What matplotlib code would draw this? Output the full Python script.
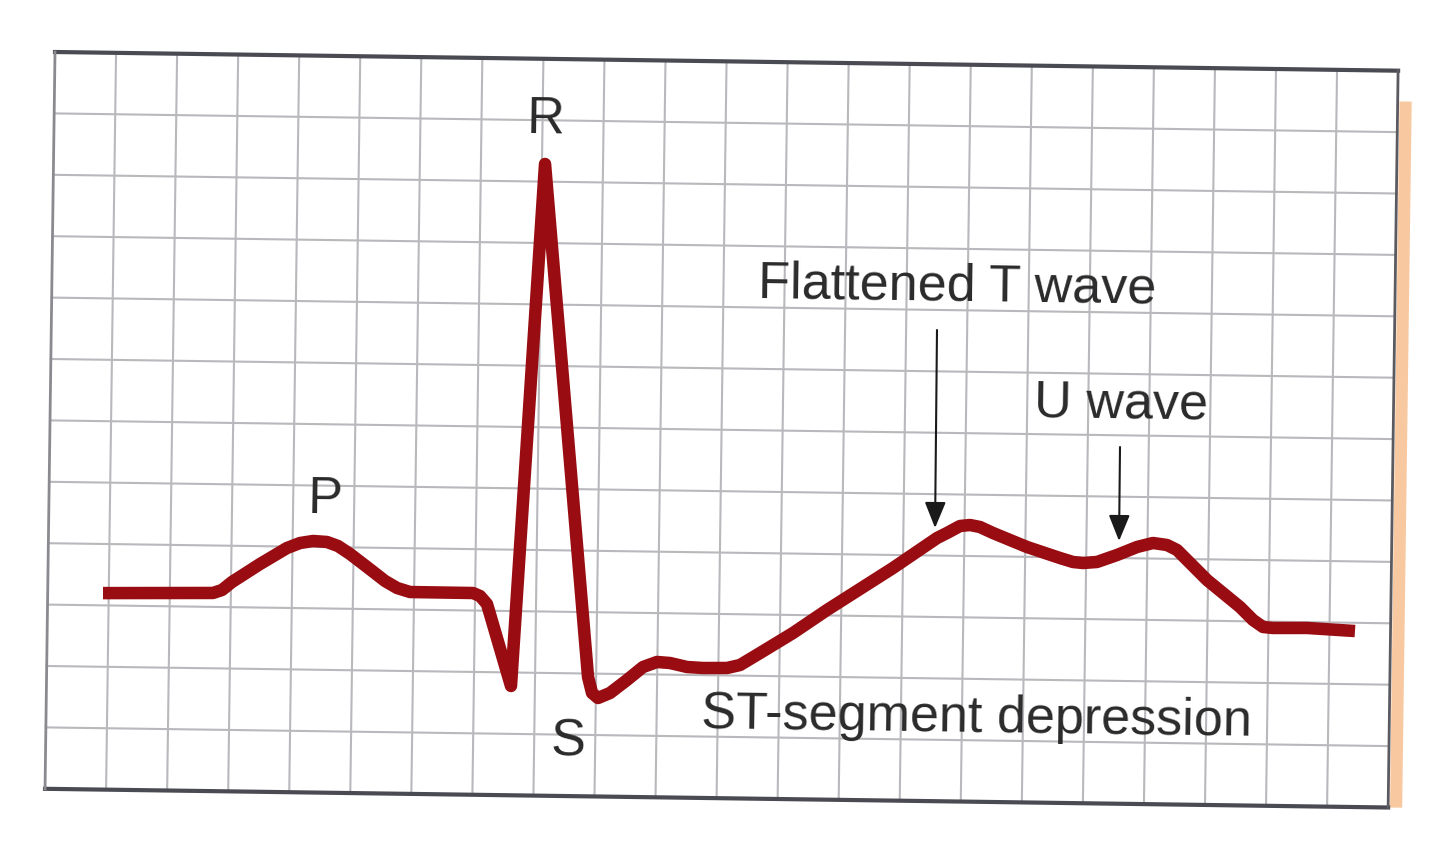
import matplotlib
matplotlib.use("Agg")
import matplotlib.pyplot as plt
import numpy as np
from matplotlib.patches import FancyArrowPatch, Rectangle
from matplotlib.transforms import Affine2D

# ECG trace in big-square units
# (x = squares from the left edge, y = squares above the bottom edge)
ecg_x = [0.906, 2.707, 2.854, 3.016, 3.471, 3.909, 4.121, 4.334, 4.563, 4.744,
         4.943, 5.224, 5.522, 5.720, 5.934, 6.966, 7.081, 7.197, 7.608, 8.050,
         8.868, 8.937, 9.036, 9.231, 9.507, 9.766, 9.994, 10.207, 10.487,
         10.749, 11.142, 11.354, 11.679, 12.215, 12.767, 13.838, 14.553, 14.715,
         14.927, 15.090, 15.254, 15.468, 16.028, 16.571, 16.785, 16.949, 17.178,
         17.504, 17.830, 18.091, 18.321, 18.486, 18.702, 18.984, 19.530, 19.746,
         19.911, 20.075, 20.632, 21.418]
ecg_y = [3.200, 3.227, 3.277, 3.410, 3.709, 3.976, 4.060, 4.096, 4.083, 4.020,
         3.893, 3.685, 3.461, 3.350, 3.287, 3.285, 3.238, 3.109, 1.780, 10.288,
         1.944, 1.684, 1.604, 1.688, 1.904, 2.119, 2.204, 2.190, 2.129,
         2.116, 2.122, 2.173, 2.373, 2.707, 3.089, 3.788, 4.286, 4.370,
         4.487, 4.505, 4.475, 4.380, 4.160, 3.988, 3.926, 3.912, 3.932,
         4.050, 4.185, 4.254, 4.224, 4.145, 3.936, 3.663, 3.231, 3.022,
         2.911, 2.897, 2.905, 2.866]

N_COLS = 22
N_ROWS = 12

TRACE = "#990d12"
INK = "#2a2a2a"
FONT = ["Liberation Sans", "DejaVu Sans"]
TILT = -0.8  # degrees, the scan is a bit crooked

fig = plt.figure(figsize=(14.4, 8.6), dpi=100)
fig.patch.set_facecolor("white")
ax = fig.add_axes([0, 0, 1, 1])
ax.set_xlim(0, 1440)
ax.set_ylim(860, 0)
ax.axis("off")

# map paper squares onto the (slightly skewed) page
paper = Affine2D().from_values(61.05, 0.85, 0.83, -61.4, 45.04, 788.8) + ax.transData

# grid
for gx in range(1, N_COLS):
    ax.plot([gx, gx], [0, N_ROWS], transform=paper, color="#b8b8bd", lw=1.5, zorder=1)
for gy in range(1, N_ROWS):
    ax.plot([0, N_COLS], [gy, gy], transform=paper, color="#b8b8bd", lw=1.5, zorder=1)

# paper border
ax.plot([0, N_COLS], [N_ROWS, N_ROWS], transform=paper, color="#4a4a52", lw=3, zorder=2)
ax.plot([0, N_COLS], [0, 0], transform=paper, color="#4a4a52", lw=3, zorder=2)
ax.plot([0, 0], [0, N_ROWS], transform=paper, color="#8a8a90", lw=2, zorder=2)
ax.plot([N_COLS, N_COLS], [0, N_ROWS], transform=paper, color="#5a5a60", lw=2, zorder=2)

# edge of the next page peeking out
ax.add_patch(Rectangle((N_COLS + 0.03, 0.0), 0.2, 11.5, transform=paper,
                       facecolor="#f8c8a0", edgecolor="none", zorder=0))

# the trace
ax.plot(ecg_x, ecg_y, transform=paper, color=TRACE, lw=9,
        solid_joinstyle="round", solid_capstyle="butt", zorder=3)

# labels
txt = dict(transform=paper, fontsize=37.5, family=FONT, color=INK,
           ha="center", va="baseline", rotation=TILT, rotation_mode="anchor", zorder=4)
ax.text(8.059, 10.793, "R", **txt)
ax.text(4.524, 4.555, "P", **txt)
ax.text(8.557, 0.653, "S", **txt)
ax.text(14.828, 8.166, "Flattened T wave", **txt)
ax.text(17.539, 6.282, "U wave", **txt)
ax.text(15.234, 1.136, "ST-segment depression", **txt)

# pointer arrows
for tail, tip in [((14.506, 7.673), (14.518, 4.449)),
                  ((17.529, 5.809), (17.534, 4.279))]:
    ax.add_patch(FancyArrowPatch(tail, tip, transform=paper,
                                 arrowstyle="-|>,head_length=1.6,head_width=0.65",
                                 mutation_scale=10, color="#1a1a1a", lw=1.5,
                                 shrinkA=0, shrinkB=0, zorder=4))

fig.savefig("out.png", dpi=100, facecolor=fig.get_facecolor())
